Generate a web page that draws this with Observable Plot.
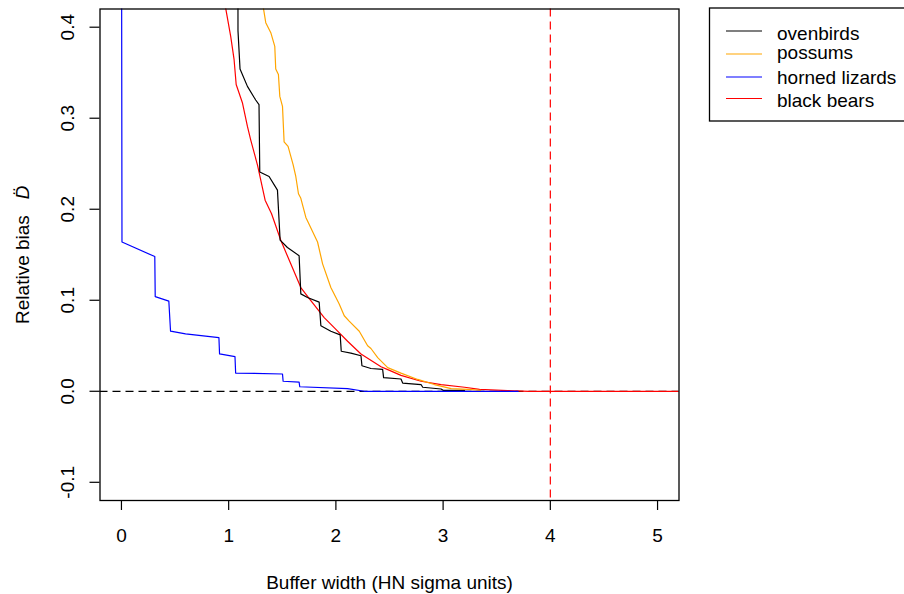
<!DOCTYPE html>
<html><head><meta charset="utf-8">
<script src="https://cdn.jsdelivr.net/npm/d3@7"></script>
<script src="https://cdn.jsdelivr.net/npm/@observablehq/plot@0.6"></script>
<style>
html,body{margin:0;padding:0;background:#fff;overflow:hidden}
#wrap{position:relative;width:904px;height:594px;overflow:hidden}
</style></head><body><div id="wrap"></div>
<script>
// ---- data ----
const seriesNames = ["ovenbirds", "possums", "horned lizards", "black bears"];
const seriesColors = ["black", "orange", "blue", "red"];

const ovenbirdsX = [1.085, 1.087, 1.106, 1.175, 1.252, 1.283, 1.29, 1.377, 1.455, 1.48, 1.548, 1.657, 1.673, 1.735, 1.844, 1.86, 1.953, 2.04, 2.05, 2.14, 2.234, 2.243, 2.327, 2.436, 2.445, 2.607, 2.623, 2.794, 2.81, 2.981, 3.0, 3.2];
const ovenbirdsY = [0.60, 0.396, 0.354, 0.335, 0.320, 0.315, 0.241, 0.236, 0.221, 0.166, 0.158, 0.149, 0.107, 0.103, 0.098, 0.072, 0.066, 0.062, 0.044, 0.042, 0.039, 0.028, 0.025, 0.024, 0.015, 0.0135, 0.009, 0.0074, 0.0044, 0.0025, 0.001, 0.001];

const possumsX = [1.30, 1.324, 1.346, 1.393, 1.430, 1.439, 1.464, 1.477, 1.502, 1.517, 1.554, 1.601, 1.626, 1.651, 1.673, 1.720, 1.829, 1.876, 1.953, 2.031, 2.078, 2.124, 2.218, 2.296, 2.327, 2.39, 2.483, 2.607, 2.763, 2.919, 3.075, 3.23, 3.35];
const possumsY = [0.46, 0.421, 0.405, 0.394, 0.379, 0.354, 0.348, 0.324, 0.313, 0.274, 0.269, 0.249, 0.236, 0.217, 0.212, 0.191, 0.164, 0.140, 0.114, 0.096, 0.083, 0.077, 0.066, 0.050, 0.047, 0.037, 0.026, 0.020, 0.013, 0.0074, 0.003, 0.002, 0.001];

const lizardsX = [0, 0.005, 0.311, 0.315, 0.442, 0.458, 0.598, 0.909, 0.915, 1.059, 1.065, 1.502, 1.508, 1.657, 1.663, 2.109, 2.264, 3.70];
const lizardsY = [0.60, 0.164, 0.148, 0.104, 0.099, 0.066, 0.063, 0.059, 0.041, 0.038, 0.020, 0.019, 0.011, 0.010, 0.005, 0.003, 0.0, 0.0];

const bearsX = [0.95, 0.972, 1.019, 1.05, 1.07, 1.128, 1.175, 1.206, 1.27, 1.34, 1.40, 1.486, 1.579, 1.673, 1.75, 1.891, 1.984, 2.109, 2.234, 2.30, 2.421, 2.50, 2.607, 2.794, 2.981, 3.2, 3.34, 3.6, 3.8, 5.2];
const bearsY = [0.45, 0.421, 0.390, 0.365, 0.337, 0.317, 0.291, 0.276, 0.248, 0.210, 0.195, 0.166, 0.140, 0.114, 0.102, 0.081, 0.070, 0.055, 0.041, 0.036, 0.027, 0.023, 0.0175, 0.011, 0.0074, 0.0044, 0.002, 0.0008, 0.0, 0.0];

const xTicks = [0, 1, 2, 3, 4, 5];
const yTicks = [-0.1, 0.0, 0.1, 0.2, 0.3, 0.4];
const refX = [4];
const refY = [0];
const xTitle = "Buffer width (HN sigma units)";
const yTitle = "Relative bias\u00a0\u00a0\u00a0";
const yTitleSymbol = "D\u0308";

// ---- build ----
const zip = (xs, ys, name) => xs.map((x, i) => ({x, y: ys[i], name}));
const series = [
  zip(ovenbirdsX, ovenbirdsY, seriesNames[0]),
  zip(possumsX, possumsY, seriesNames[1]),
  zip(lizardsX, lizardsY, seriesNames[2]),
  zip(bearsX, bearsY, seriesNames[3])
];
const drawOrder = [3, 0, 1, 2];

const FONT = "Arial, 'Liberation Sans', sans-serif";
const FS = 19;

const chart = Plot.plot({
  width: 904,
  height: 594,
  marginLeft: 99.5,
  marginRight: 225.5,
  marginTop: 8.5,
  marginBottom: 94,
  style: {background: "white", color: "black", fontFamily: FONT, fontSize: FS + "px", overflow: "visible"},
  x: {domain: [-0.2, 5.2], label: null},
  y: {domain: [-0.12, 0.42], label: null},
  marks: [
    Plot.ruleY(refY, {stroke: "black", strokeWidth: 1.2, strokeDasharray: "8,5"}),
    Plot.ruleX(refX, {stroke: "red", strokeWidth: 1.2, strokeDasharray: "8,5"}),
    ...drawOrder.map(i => Plot.line(series[i], {x: "x", y: "y", stroke: seriesColors[i], strokeWidth: 1.2, clip: true})),
    Plot.frame({stroke: "black", strokeWidth: 1.3}),
    Plot.axisX({ticks: xTicks, tickSize: 10, tickPadding: 18, tickFormat: d => String(d), label: null, fontSize: FS, strokeWidth: 1.2}),
    Plot.axisY({ticks: yTicks, tickSize: 10, tickFormat: () => "", label: null, strokeWidth: 1.2}),
    Plot.text(yTicks, {y: d => d, text: d => d.toFixed(1), frameAnchor: "left", rotate: -90, dx: -32, textAnchor: "middle", lineAnchor: "middle", fontSize: FS, fill: "black"}),
    Plot.text([xTitle], {text: d => d, frameAnchor: "bottom", lineAnchor: "bottom", dy: 88, fontSize: FS, fill: "black"}),
    Plot.text([yTitle + yTitleSymbol], {text: d => d, frameAnchor: "left", rotate: -90, dx: -77, textAnchor: "middle", lineAnchor: "middle", fontSize: FS, fill: "black"})
  ]
});
document.getElementById("wrap").appendChild(chart);

// italic symbol in the y title
d3.select(chart).selectAll("text").each(function() {
  if (this.textContent === yTitle + yTitleSymbol) {
    const t = d3.select(this);
    t.text(null);
    t.append("tspan").text(yTitle);
    t.append("tspan").attr("font-style", "italic").text(yTitleSymbol);
  }
});

// ---- legend ----
const lg = d3.select("#wrap").append("svg")
  .attr("width", 904).attr("height", 594)
  .style("position", "absolute").style("left", "0px").style("top", "0px")
  .style("font-family", FONT).style("font-size", FS + "px");
lg.append("rect").attr("x", 709.5).attr("y", 8).attr("width", 260).attr("height", 113)
  .attr("fill", "white").attr("stroke", "black").attr("stroke-width", 1.3);
const legLineY = [31, 54, 77, 98.5];
const legTextY = [40, 58.5, 83.5, 106.5];
seriesNames.forEach((n, i) => {
  lg.append("line").attr("x1", 726).attr("x2", 762).attr("y1", legLineY[i]).attr("y2", legLineY[i])
    .attr("stroke", seriesColors[i]).attr("stroke-width", 1.2);
  lg.append("text").attr("x", 777).attr("y", legTextY[i]).attr("fill", "black").text(n);
});
</script>
</body></html>
